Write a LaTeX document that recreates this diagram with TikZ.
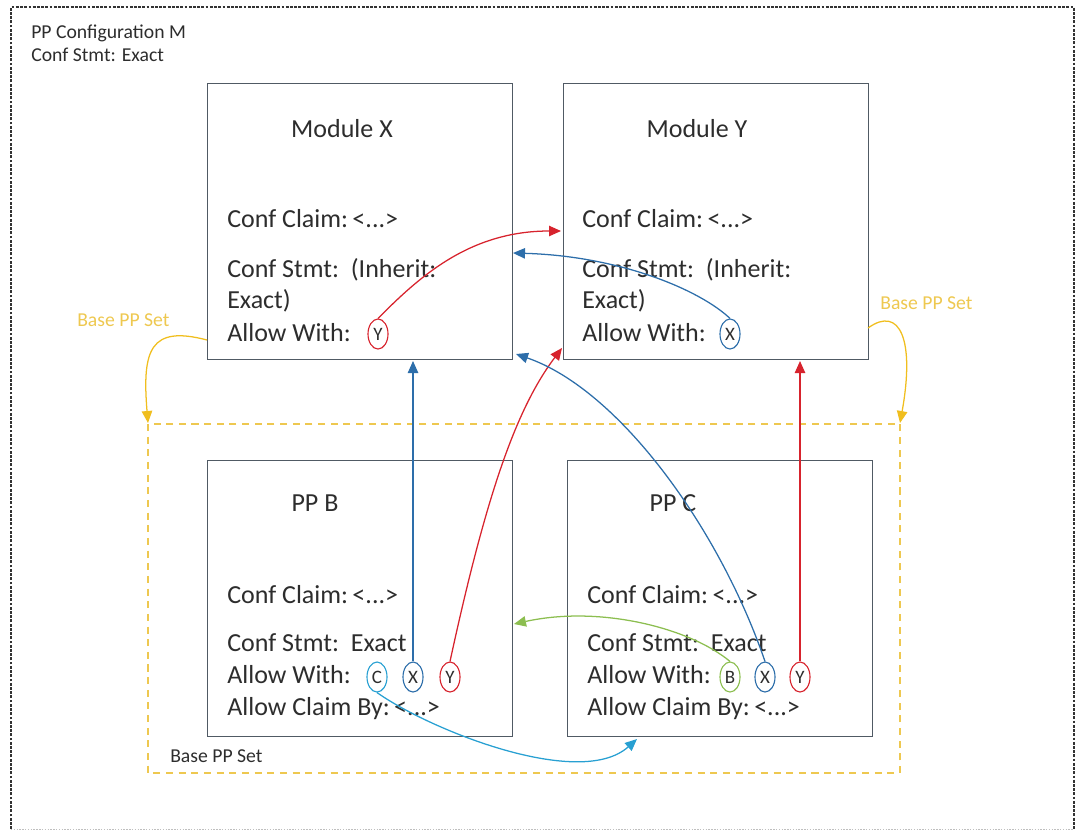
\documentclass[tikz,border=0pt]{standalone}
\usepackage{fontspec}
\setmainfont{Carlito}
\usetikzlibrary{arrows.meta,shapes.geometric}
\definecolor{txt}{RGB}{45,45,45}
\definecolor{boxc}{RGB}{80,90,100}
\definecolor{redA}{RGB}{215,35,45}
\definecolor{blueA}{RGB}{45,110,170}
\definecolor{cyanA}{RGB}{40,160,210}
\definecolor{greenA}{RGB}{140,190,80}
\definecolor{yelA}{RGB}{240,190,30}
\definecolor{yelT}{RGB}{238,200,80}
\tikzset{
  mbox/.style={draw=boxc, line width=0.9pt, minimum width=7.625cm, minimum height=6.9cm, anchor=north west, inner sep=0pt},
  big/.style={font=\fontsize{18.5}{22}\selectfont, text=txt, inner sep=0pt},
  small/.style={font=\fontsize{14}{17}\selectfont, text=txt, inner sep=0pt},
  ylab/.style={font=\fontsize{14}{17}\selectfont, text=yelT, inner sep=0pt},
  oval/.style={ellipse, draw=#1, line width=0.8pt, minimum width=0.5cm, minimum height=0.75cm, inner sep=0pt, font=\fontsize{13.5}{15}\selectfont, text=txt},
  tipA/.style={-{Triangle[length=3mm,width=2.6mm]}, line width=0.9pt},
}
\begin{document}
\begin{tikzpicture}[x=0.025cm,y=-0.025cm]
\useasboundingbox (0,0) rectangle (1076,836);
% outer frame
\draw[black!80, line width=0.9pt, dash pattern=on 2pt off 1pt] (11,829) -- (11,7) -- (1074,7) -- (1074,829);
\draw[black!25, line width=0.6pt, dash pattern=on 1pt off 1pt] (11,829) -- (1074,829);
\node[small, anchor=base west] (t1) at (31,38) {PP Configuration M};
\node[small, anchor=base west] (t2) at (31,61) {Conf Stmt: Exact};
% base set
\draw[yelT, line width=0.8pt, dash pattern=on 5pt off 4pt] (148,424) rectangle (900,773);
\node[small, anchor=base west] (bset) at (170,762) {Base PP Set};
% boxes
\node[mbox] (mx) at (207,83) {};
\node[mbox] (my) at (563,83) {};
\node[mbox] (pb) at (207,460) {};
\node[mbox] (pc) at (567,460) {};
% module X text
\node[big, anchor=base] (mxt) at (342,137) {Module X};
\node[big, anchor=base west] (mx1) at (227,227) {Conf Claim:\,<...>};
\node[big, anchor=base west] (mx2) at (227,277) {Conf Stmt:\ \ (Inherit:};
\node[big, anchor=base west] (mx3) at (227,308) {Exact)};
\node[big, anchor=base west] (mx4) at (227,341) {Allow With:};
\node[oval=redA] (mxY) at (378,334) {Y};
% module Y text
\node[big, anchor=base] (myt) at (697,137) {Module Y};
\node[big, anchor=base west] (my1) at (582,227) {Conf Claim:\,<...>};
\node[big, anchor=base west] (my2) at (582,277) {Conf Stmt:\ \ (Inherit:};
\node[big, anchor=base west] (my3) at (582,308) {Exact)};
\node[big, anchor=base west] (my4) at (582,341) {Allow With:};
\node[oval=blueA] (myX) at (730,334) {X};
% PP B text
\node[big, anchor=base] (pbt) at (315,511) {PP B};
\node[big, anchor=base west] (pb1) at (227,603) {Conf Claim:\,<...>};
\node[big, anchor=base west] (pb2) at (227,651) {Conf Stmt:\ \ Exact};
\node[big, anchor=base west] (pb3) at (227,683) {Allow With:};
\node[big, anchor=base west] (pb4) at (227,715) {Allow Claim By:\,<...>};
\node[oval=cyanA] (pbC) at (377,677) {C};
\node[oval=blueA] (pbX) at (413,677) {X};
\node[oval=redA] (pbY) at (450,677) {Y};
% PP C text
\node[big, anchor=base] (pct) at (673,511) {PP C};
\node[big, anchor=base west] (pc1) at (587,603) {Conf Claim:\,<...>};
\node[big, anchor=base west] (pc2) at (587,651) {Conf Stmt:\ \ Exact};
\node[big, anchor=base west] (pc3) at (587,683) {Allow With:};
\node[big, anchor=base west] (pc4) at (587,715) {Allow Claim By:\,<...>};
\node[oval=greenA] (pcB) at (730,677) {B};
\node[oval=blueA] (pcX) at (765,677) {X};
\node[oval=redA] (pcY) at (800,677) {Y};
% yellow labels
\node[ylab, anchor=base west] (yl) at (77,326) {Base PP Set};
\node[ylab, anchor=base west] (yr) at (880,309) {Base PP Set};
% end coordinates
\coordinate (eR1) at (561,231);
\coordinate (eB2) at (513,253);
\coordinate (eB3) at (413,361);
\coordinate (eR4) at (562,348);
\coordinate (eB5) at (516,354);
\coordinate (eR6) at (800,361);
\coordinate (eG7) at (514,624);
\coordinate (eC8) at (637,739);
\coordinate (sYL) at (207,340);
\coordinate (eYL) at (148,423);
\coordinate (sYR) at (868,328);
\coordinate (eYR) at (900,423);
% connectors
\draw[tipA, redA] (mxY.north) .. controls (420,276) and (470,231) .. (eR1);
\draw[tipA, blueA] (myX.north) .. controls (700,290) and (620,256) .. (eB2);
\draw[tipA, blueA] (pbX.north) -- (eB3);
\draw[tipA, redA] (pbY.north) .. controls (485,500) and (515,410) .. (eR4);
\draw[tipA, blueA] (pcX.north) .. controls (720,530) and (620,390) .. (eB5);
\draw[tipA, redA] (pcY.north) -- (eR6);
\draw[tipA, greenA] (pcB.north) .. controls (690,628) and (600,605) .. (eG7);
\draw[tipA, cyanA] (pbC.south) .. controls (430,730) and (580,790) .. (eC8);
\draw[tipA, yelA] (sYL) .. controls (150,325) and (142,350) .. (eYL);
\draw[tipA, yelA] (sYR) .. controls (900,305) and (915,340) .. (eYR);
\end{tikzpicture}
\end{document}
